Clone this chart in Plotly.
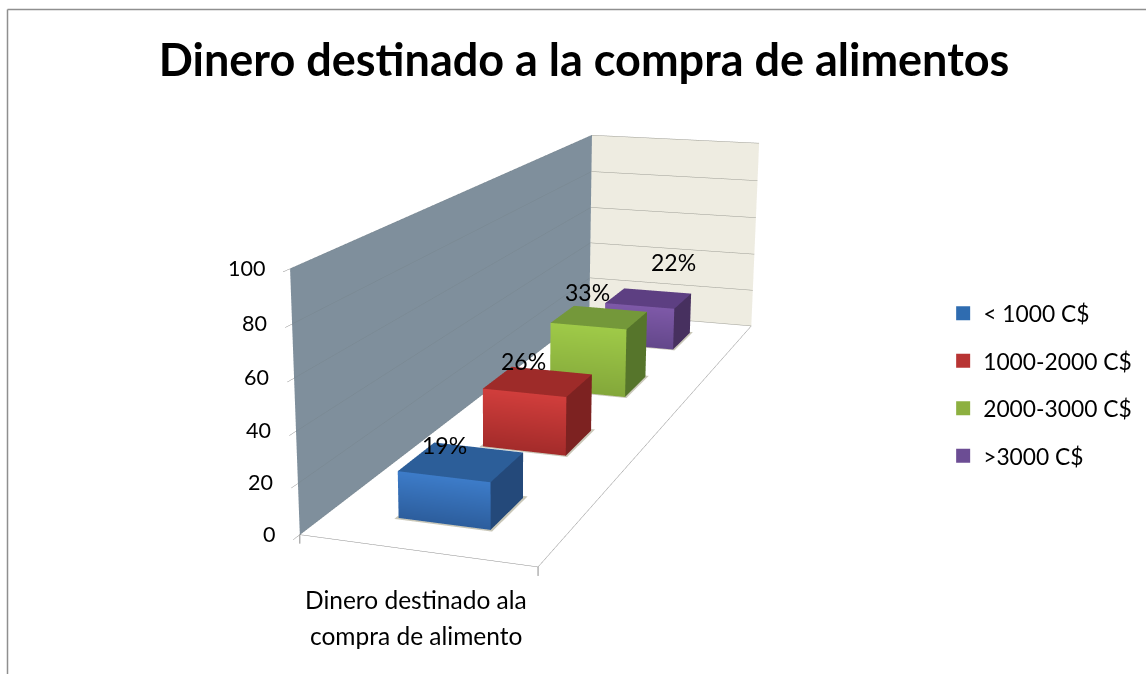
import plotly.graph_objects as go

# Valores
series = ['< 1000 C$', '1000-2000 C$', '2000-3000 C$', '>3000 C$']
values = [19, 26, 33, 22]
value_labels = ['19%', '26%', '33%', '22%']
z_ticks = [0, 20, 40, 60, 80, 100]
category_lines = ['Dinero destinado ala', 'compra de alimento']
title = 'Dinero destinado a la compra de alimentos'

# Colores de cada barra
front_top = ['#3d7cc9', '#d13e3c', '#9fca48', '#7e59a8']
front_bot = ['#2c5d9c', '#a32b2a', '#83a73a', '#63478a']
top_col = ['#2c5e99', '#9e2b29', '#74983a', '#5d3f82']
side_col = ['#24497a', '#7d2221', '#56752b', '#47305f']
legend_col = ['#2f6cb0', '#b83433', '#8db040', '#6c4d94']

# Geometria de la escena: la figura es mas alta que la ventana para
# conseguir la misma perspectiva casi ortogonal del grafico 3D original
W, HP = 1146, 674
CX, CY = 504, 394
H_SCENE = 1394
TOP = H_SCENE // 2 - CY

BAR_X = (0.30, 0.70)
BAR_CENTERS = [0.125, 0.375, 0.625, 0.875]
BAR_DEPTH = 0.05
label_shift = [(-17, 17), (-15, 20), (-12, 25), (25, 36)]


def py(y):
    """Pasa un pixel de la ventana a coordenada paper."""
    return 1 - (y + TOP) / H_SCENE


fig = go.Figure()
for n in range(4):
    x0, x1 = BAR_X
    y0, y1 = BAR_CENTERS[n] - BAR_DEPTH, BAR_CENTERS[n] + BAR_DEPTH
    h = values[n]
    # sombra sobre el suelo
    fig.add_trace(go.Mesh3d(
        x=[x0 - 0.012, x1 + 0.012, x1 + 0.012, x0 - 0.012],
        y=[y0 - 0.004, y0 - 0.004, y1 + 0.006, y1 + 0.006],
        z=[0.3, 0.3, 0.3, 0.3], i=[0, 0], j=[1, 2], k=[2, 3],
        color='#c9c7b8', lighting=dict(ambient=1, diffuse=0, specular=0, fresnel=0),
        hoverinfo='skip', showlegend=False
    ))
    vx = [x0, x1, x1, x0, x1, x1, x1, x1, x0, x1, x1, x0]
    vy = [y0, y0, y0, y0, y0, y1, y1, y0, y0, y0, y1, y1]
    vz = [0, 0, h, h, 0, 0, h, h, h, h, h, h]
    vc = [front_bot[n], front_bot[n], front_top[n], front_top[n]] + [side_col[n]] * 4 + [top_col[n]] * 4
    fig.add_trace(go.Mesh3d(
        x=vx, y=vy, z=vz, vertexcolor=vc,
        i=[0, 0, 4, 4, 8, 8], j=[1, 2, 5, 6, 9, 10], k=[2, 3, 6, 7, 10, 11],
        lighting=dict(ambient=1, diffuse=0, specular=0, fresnel=0), flatshading=True,
        hoverinfo='skip', showlegend=False
    ))
    fig.add_trace(go.Scatter3d(
        x=[None], y=[None], z=[None], mode='markers', name=series[n], legendgroup=series[n],
        marker=dict(symbol='square', size=14, color=legend_col[n])
    ))

# Rejilla de las dos paredes
gx, gy, gz = [], [], []
for t in z_ticks:
    gx += [0, 1, None]
    gy += [1, 1, None]
    gz += [t, t, None]
fig.add_trace(go.Scatter3d(x=gx, y=gy, z=gz, mode='lines', line=dict(color='#9c9c94', width=1),
                           hoverinfo='skip', showlegend=False))
gx, gy, gz = [], [], []
for t in z_ticks:
    gx += [0, 0, None]
    gy += [0, 1, None]
    gz += [t, t, None]
fig.add_trace(go.Scatter3d(x=gx, y=gy, z=gz, mode='lines', line=dict(color='#798791', width=1),
                           hoverinfo='skip', showlegend=False))

annots = []
for n in range(4):
    annots.append(dict(
        x=sum(BAR_X) / 2, y=BAR_CENTERS[n], z=values[n], text=value_labels[n], showarrow=False,
        xshift=label_shift[n][0], yshift=label_shift[n][1],
        font=dict(family='Lato', size=23, color='black')
    ))
for t in z_ticks:
    annots.append(dict(x=0, y=0, z=t, text=str(t), showarrow=False, xanchor='right', xshift=-23, yshift=1,
                       font=dict(family='Lato', size=21.5, color='black')))
for k, line in enumerate(category_lines):
    annots.append(dict(x=0.5, y=0, z=0, text=line, showarrow=False, yshift=-49 - 36 * k,
                       font=dict(family='Lato', size=24.5, color='black')))
# marcas verticales del eje de categorias
for x_edge in [0, 1]:
    annots.append(dict(x=x_edge, y=0, z=0, text='\u00a0', showarrow=True, ax=0, ay=10, arrowhead=0, arrowwidth=1,
                       arrowcolor='#8c8c8c', standoff=0, startstandoff=0, font=dict(size=1), borderpad=0))

axis_style = dict(showgrid=False, showticklabels=False, title='', zeroline=False, showspikes=False)
fig.update_layout(
    width=W, height=H_SCENE, margin=dict(l=0, r=0, t=0, b=0), paper_bgcolor='white',
    font=dict(family='Lato', size=22.8, color='black'),
    title=dict(text='<b>' + title + '</b>', x=584 / W, xanchor='center', y=py(60), yanchor='middle',
               font=dict(family='Lato', size=45, color='black')),
    showlegend=True,
    legend=dict(x=0.823, y=py(292), yanchor='top', xanchor='left', tracegroupgap=14.8,
                font=dict(size=22.8), bgcolor='rgba(0,0,0,0)'),
    scene=dict(
        domain=dict(x=[0, 2 * CX / W], y=[0, 1]),
        aspectmode='manual', aspectratio=dict(x=1, y=3.9636, z=1.0797),
        camera=dict(projection=dict(type='perspective'), up=dict(x=0, y=0, z=1),
                    eye=dict(x=2.3734, y=-7.6073, z=1.8954),
                    center=dict(x=-0.2804, y=-0.1814, z=-0.4353)),
        xaxis=dict(range=[0, 1], ticks='', showbackground=True, backgroundcolor='#7f8f9c',
                   showline=True, linecolor='#8c8c8c', **axis_style),
        yaxis=dict(range=[0, 1], ticks='', showbackground=True, backgroundcolor='#eeece1',
                   showline=True, linecolor='#8c8c8c', **axis_style),
        zaxis=dict(range=[0, 100], tickvals=z_ticks, ticks='outside', ticklen=8, tickcolor='#8c8c8c',
                   showbackground=True, backgroundcolor='white', **axis_style),
        annotations=annots,
    ),
    shapes=[
        dict(type='line', xref='paper', yref='paper', x0=7.5 / W, x1=7.5 / W, y0=0, y1=py(9.5),
             line=dict(color='#8f8f8f', width=1.5)),
        dict(type='line', xref='paper', yref='paper', x0=7.5 / W, x1=1, y0=py(9.5), y1=py(9.5),
             line=dict(color='#8f8f8f', width=1.5)),
    ],
)
fig.write_html(
    'out.html', config=dict(displayModeBar=False),
    post_script=f"document.body.style.margin='-{TOP}px 0 0 0';"
                "document.documentElement.style.overflow='hidden';document.body.style.overflow='hidden';"
)
